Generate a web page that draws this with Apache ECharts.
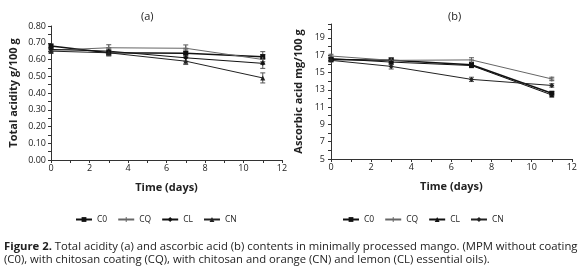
<!DOCTYPE html>
<html>
<head>
<meta charset="utf-8">
<script src="https://cdn.jsdelivr.net/npm/echarts@6/dist/echarts.min.js"></script>
<style>
  html, body { margin: 0; padding: 0; background: #fff; }
  #main { width: 580px; height: 277px; }
</style>
</head>
<body>
<div id="main"></div>
<script>
var chart = echarts.init(document.getElementById('main'), null, { renderer: 'canvas' });

var days = [0, 3, 7, 11];
var seriesNames = ['C0', 'CQ', 'CL', 'CN'];

// (a) total acidity, g/100 g
var acidC0 = [0.68, 0.64, 0.637, 0.617];
var acidCQ = [0.655, 0.67, 0.667, 0.60];
var acidCL = [0.66, 0.65, 0.61, 0.577];
var acidCN = [0.65, 0.64, 0.59, 0.49];
var acidErr = [0.012, 0.018, 0.02, 0.03];

// (b) ascorbic acid, mg/100 g
var ascC0 = [16.5, 16.4, 15.9, 12.6];
var ascCQ = [16.9, 16.4, 16.45, 14.25];
var ascCL = [16.6, 16.2, 15.8, 12.4];
var ascCN = [16.4, 15.7, 14.2, 13.5];
var ascErr = [0.2, 0.3, 0.25, 0.2];

var fontFam = '"Open Sans", "DejaVu Sans", sans-serif';

function pairs(vals) {
  return days.map(function (d, i) { return [d, vals[i]]; });
}

function errData(list, err) {
  var out = [];
  list.forEach(function (vals) {
    days.forEach(function (d, i) { out.push([d, vals[i] - err[i], vals[i] + err[i]]); });
  });
  return out;
}

function errRender(params, api) {
  var lo = api.coord([api.value(0), api.value(1)]);
  var hi = api.coord([api.value(0), api.value(2)]);
  var w = 2.5;
  var st = { stroke: '#555', lineWidth: 1 };
  return {
    type: 'group',
    children: [
      { type: 'line', shape: { x1: lo[0], y1: lo[1], x2: hi[0], y2: hi[1] }, style: st },
      { type: 'line', shape: { x1: lo[0] - w, y1: lo[1], x2: lo[0] + w, y2: lo[1] }, style: st },
      { type: 'line', shape: { x1: hi[0] - w, y1: hi[1], x2: hi[0] + w, y2: hi[1] }, style: st }
    ]
  };
}

function xAxisFor(idx) {
  return {
    type: 'value', gridIndex: idx, min: 0, max: 12, interval: 2,
    name: 'Time (days)', nameLocation: 'middle', nameGap: 22,
    nameTextStyle: { fontFamily: fontFam, fontSize: 11, fontWeight: 'bold', color: '#222' },
    axisLine: { lineStyle: { color: '#333', width: 1 } },
    axisTick: { length: 3, lineStyle: { color: '#333' } },
    minorTick: { show: true, splitNumber: 2, length: 3, lineStyle: { color: '#333' } },
    axisLabel: { fontFamily: fontFam, fontSize: 9, color: '#222', margin: 4 },
    splitLine: { show: false }
  };
}

var plusPath = 'path://M0,4 L10,4 L10,6 L0,6 Z M4,0 L6,0 L6,10 L4,10 Z';
var lineDefs = [
  { key: 'C0', color: '#111', width: 1.5, symA: 'rect', symB: 'rect' },
  { key: 'CQ', color: '#666', width: 1, symA: plusPath, symB: plusPath },
  { key: 'CL', color: '#111', width: 1, symA: 'diamond', symB: 'triangle' },
  { key: 'CN', color: '#222', width: 1, symA: 'triangle', symB: 'diamond' }
];
var acidSets = [acidC0, acidCQ, acidCL, acidCN];
var ascSets = [ascC0, ascCQ, ascCL, ascCN];

var series = [];
lineDefs.forEach(function (d, i) {
  series.push({
    name: d.key, type: 'line', xAxisIndex: 0, yAxisIndex: 0,
    data: pairs(acidSets[i]), symbol: d.symA, symbolSize: 5,
    itemStyle: { color: d.color }, lineStyle: { color: d.color, width: d.width },
    z: 3
  });
});
lineDefs.forEach(function (d, i) {
  series.push({
    name: d.key + ' ', type: 'line', xAxisIndex: 1, yAxisIndex: 1,
    data: pairs(ascSets[i]), symbol: d.symB, symbolSize: 5,
    itemStyle: { color: d.color }, lineStyle: { color: d.color, width: d.width },
    z: 3
  });
});
series.push({
  type: 'custom', xAxisIndex: 0, yAxisIndex: 0, renderItem: errRender,
  data: errData(acidSets, acidErr), encode: { x: 0, y: [1, 2] }, z: 2, silent: true
});
series.push({
  type: 'custom', xAxisIndex: 1, yAxisIndex: 1, renderItem: errRender,
  data: errData(ascSets, ascErr), encode: { x: 0, y: [1, 2] }, z: 2, silent: true
});

var legendBase = {
  orient: 'horizontal', top: 210, itemWidth: 16, itemHeight: 6, itemGap: 10,
  textStyle: { fontFamily: fontFam, fontSize: 8.5, color: '#222' },
  formatter: function (n) { return n.trim(); },
  selectedMode: false
};

var option = {
  animation: false,
  backgroundColor: '#fff',
  grid: [
    { left: 51, top: 26, width: 231, height: 134 },
    { left: 331, top: 24, width: 242, height: 135 }
  ],
  title: [
    { text: '(a)', left: 136, top: 6, textStyle: { fontFamily: fontFam, fontSize: 11, fontWeight: 'normal', color: '#222' } },
    { text: '(b)', left: 443, top: 6, textStyle: { fontFamily: fontFam, fontSize: 11, fontWeight: 'normal', color: '#222' } }
  ],
  legend: [
    Object.assign({}, legendBase, { left: 70, data: seriesNames }),
    Object.assign({}, legendBase, { left: 337, data: seriesNames.map(function (n) { return n + ' '; }) })
  ],
  xAxis: [xAxisFor(0), xAxisFor(1)],
  yAxis: [
    {
      type: 'value', gridIndex: 0, min: 0, max: 0.8, interval: 0.1,
      name: 'Total acidity g/100 g', nameLocation: 'middle', nameGap: 32, nameRotate: 90,
      nameTextStyle: { fontFamily: fontFam, fontSize: 11, fontWeight: 'bold', color: '#222' },
      axisLine: { show: true, lineStyle: { color: '#333', width: 1 } },
      axisTick: { show: true, length: 3, lineStyle: { color: '#333' } },
      minorTick: { show: true, splitNumber: 2, length: 3, lineStyle: { color: '#333' } },
      axisLabel: { fontFamily: fontFam, fontSize: 9, color: '#222', margin: 5,
        formatter: function (v) { return v.toFixed(2); } },
      splitLine: { show: false }
    },
    {
      type: 'value', gridIndex: 1, min: 5, max: 20.6, interval: 2,
      name: 'Ascorbic acid mg/100 g', nameLocation: 'middle', nameGap: 27, nameRotate: 90,
      nameTextStyle: { fontFamily: fontFam, fontSize: 11, fontWeight: 'bold', color: '#222' },
      axisLine: { show: true, lineStyle: { color: '#333', width: 1 } },
      axisTick: { show: true, length: 3, lineStyle: { color: '#333' } },
      minorTick: { show: true, splitNumber: 2, length: 3, lineStyle: { color: '#333' } },
      axisLabel: { fontFamily: fontFam, fontSize: 9, color: '#222', margin: 6,
        formatter: function (v) { return (Math.round(v) === v && v % 2 === 1) ? String(v) : ''; } },
      splitLine: { show: false }
    }
  ],
  graphic: [
    {
      type: 'text', left: 4, top: 240,
      style: {
        text: '{b|Figure 2.} Total acidity (a) and ascorbic acid (b) contents in minimally processed mango. (MPM without coating\n(C0), with chitosan coating (CQ), with chitosan and orange (CN) and lemon (CL) essential oils).',
        font: '11.3px "Open Sans", sans-serif',
        fill: '#222', lineHeight: 13,
        rich: { b: { fontWeight: 'bold', fontFamily: '"Open Sans", sans-serif', fontSize: 11.3, fill: '#222' } }
      }
    }
  ],
  series: series
};

chart.setOption(option);
window.addEventListener('resize', chart.resize);
</script>
</body>
</html>
